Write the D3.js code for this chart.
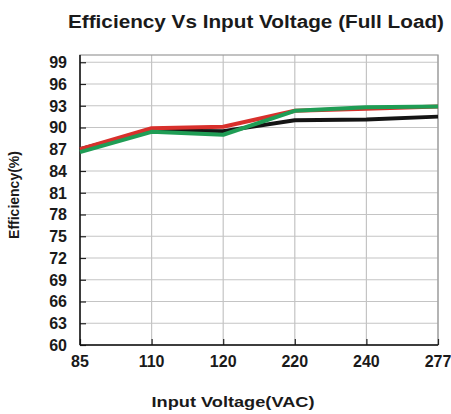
<!DOCTYPE html>
<html>
<head>
<meta charset="utf-8">
<script src="https://cdn.jsdelivr.net/npm/d3@7"></script>
<style>
	html, body {
		margin: 0;
		padding: 0;
		background: #fff;
	}
	svg {
		display: block;
		font-family: 'Liberation Sans', Arial, sans-serif;
		font-weight: bold;
	}
</style>
</head>
<body>
<div id="chart"></div>
<script>
const categories = ['85', '110', '120', '220', '240', '277'];
const yTicks = [60, 63, 66, 69, 72, 75, 78, 81, 84, 87, 90, 93, 96, 99];

const blackSeries = [87.0, 89.6, 89.5, 91.0, 91.1, 91.5];
const redSeries = [87.0, 89.9, 90.1, 92.3, 92.6, 92.9];
const greenSeries = [86.6, 89.4, 89.0, 92.3, 92.8, 92.9];

const series = [
	{name: 'black', values: blackSeries, color: '#141414'},
	{name: 'red', values: redSeries, color: '#d8302c'},
	{name: 'green', values: greenSeries, color: '#1f9d55'},
];

const width = 451;
const height = 414;
const margin = {top: 55, right: 13, bottom: 69, left: 80};

const svg = d3
	.select('#chart')
	.append('svg')
	.attr('width', width)
	.attr('height', height);

const x = d3
	.scalePoint()
	.domain(categories)
	.range([margin.left, width - margin.right]);

const y = d3
	.scaleLinear()
	.domain([60, 100])
	.range([height - margin.bottom, margin.top]);

// Grid
const grid = svg.append('g');

grid.selectAll('line.h')
	.data(yTicks.slice(1))
	.enter()
	.append('line')
	.attr('class', 'h')
	.attr('x1', margin.left)
	.attr('x2', width - margin.right)
	.attr('y1', d => y(d))
	.attr('y2', d => y(d))
	.attr('stroke', '#c4c4c4')
	.attr('stroke-width', 1.2);

grid.selectAll('line.v')
	.data(categories.slice(1))
	.enter()
	.append('line')
	.attr('class', 'v')
	.attr('x1', d => x(d))
	.attr('x2', d => x(d))
	.attr('y1', margin.top)
	.attr('y2', height - margin.bottom)
	.attr('stroke', '#c4c4c4')
	.attr('stroke-width', 1.2);

// Top and right border
svg.append('rect')
	.attr('x', margin.left)
	.attr('y', margin.top)
	.attr('width', width - margin.right - margin.left)
	.attr('height', height - margin.bottom - margin.top)
	.attr('fill', 'none')
	.attr('stroke', '#9a9a9a')
	.attr('stroke-width', 1.2);

// Axes
const yAxis = svg
	.append('g')
	.attr('transform', `translate(${margin.left},0)`)
	.call(
		d3.axisRight(y)
			.tickValues(yTicks)
			.tickSize(6)
			.tickFormat('')
	);

yAxis.select('.domain').remove();
yAxis.selectAll('.tick line').attr('stroke', '#222').attr('stroke-width', 1.2);

svg.append('g')
	.selectAll('text')
	.data(yTicks)
	.enter()
	.append('text')
	.attr('x', margin.left - 13)
	.attr('y', d => y(d))
	.attr('dy', '0.36em')
	.attr('text-anchor', 'end')
	.attr('font-size', 16)
	.attr('fill', '#1a1a1a')
	.text(d => d);

const xAxis = svg
	.append('g')
	.attr('transform', `translate(0,${height - margin.bottom})`)
	.call(d3.axisTop(x).tickSize(6).tickFormat(''));

xAxis.select('.domain').remove();
xAxis.selectAll('.tick line').attr('stroke', '#222').attr('stroke-width', 1.2);

svg.append('g')
	.selectAll('text')
	.data(categories)
	.enter()
	.append('text')
	.attr('x', d => x(d))
	.attr('y', height - margin.bottom + 22)
	.attr('text-anchor', 'middle')
	.attr('font-size', 16)
	.attr('fill', '#1a1a1a')
	.text(d => d);

svg.append('line')
	.attr('x1', margin.left)
	.attr('x2', margin.left)
	.attr('y1', margin.top)
	.attr('y2', height - margin.bottom)
	.attr('stroke', '#111')
	.attr('stroke-width', 1.5);

svg.append('line')
	.attr('x1', margin.left)
	.attr('x2', width - margin.right)
	.attr('y1', height - margin.bottom)
	.attr('y2', height - margin.bottom)
	.attr('stroke', '#111')
	.attr('stroke-width', 1.5);

// Lines
const line = d3
	.line()
	.x((d, i) => x(categories[i]))
	.y(d => y(d));

svg.append('g')
	.selectAll('path')
	.data(series)
	.enter()
	.append('path')
	.attr('d', d => line(d.values))
	.attr('fill', 'none')
	.attr('stroke', d => d.color)
	.attr('stroke-width', 4)
	.attr('stroke-linejoin', 'round');

// Titles
svg.append('text')
	.attr('x', 256)
	.attr('y', 28)
	.attr('text-anchor', 'middle')
	.attr('font-size', 18)
	.attr('fill', '#1a1a1a')
	.attr('textLength', 376)
	.attr('lengthAdjust', 'spacingAndGlyphs')
	.text('Efficiency Vs Input Voltage (Full Load)');

svg.append('text')
	.attr('x', 233)
	.attr('y', 407)
	.attr('text-anchor', 'middle')
	.attr('font-size', 14)
	.attr('fill', '#1a1a1a')
	.attr('textLength', 163)
	.attr('lengthAdjust', 'spacingAndGlyphs')
	.text('Input Voltage(VAC)');

svg.append('text')
	.attr('transform', 'translate(19,195) rotate(-90)')
	.attr('text-anchor', 'middle')
	.attr('font-size', 14)
	.attr('fill', '#1a1a1a')
	.text('Efficiency(%)');
</script>
</body>
</html>
